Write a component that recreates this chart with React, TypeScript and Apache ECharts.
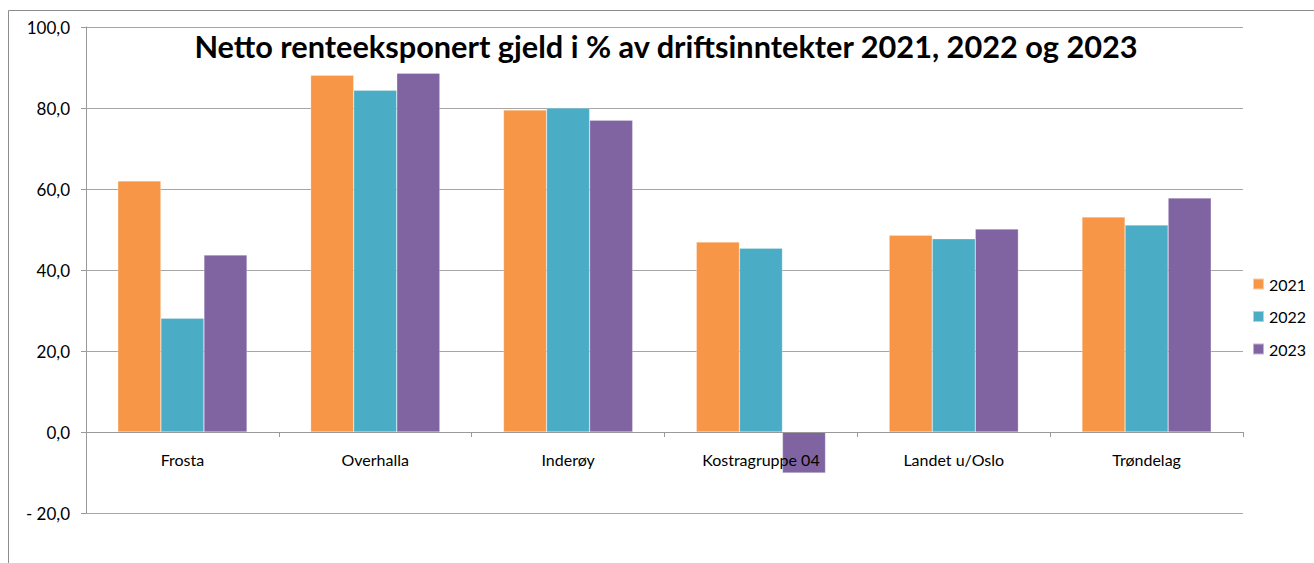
import React, { useEffect, useRef } from "react";
import * as echarts from "echarts";

const categories = ["Frosta", "Overhalla", "Inderøy", "Kostragruppe 04", "Landet u/Oslo", "Trøndelag"];
const values2021 = [62.0, 88.1, 79.5, 46.9, 48.6, 53.1];
const values2022 = [28.1, 84.4, 80.0, 45.4, 47.7, 51.1];
const values2023 = [43.7, 88.6, 77.0, -10.1, 50.1, 57.8];
const seriesNames = ["2021", "2022", "2023"];
const colors = ["#F79646", "#4BACC6", "#8064A2"];
const titleText = "Netto renteeksponert gjeld i % av driftsinntekter 2021, 2022 og 2023";

const FONT = "Lato, 'Open Sans', sans-serif";

export default function App() {
  const ref = useRef<HTMLDivElement>(null);
  useEffect(() => {
    if (!ref.current) return;
    const chart = echarts.init(ref.current, null, { renderer: "svg" });
    const data = [values2021, values2022, values2023];
    chart.setOption({
      animation: false,
      backgroundColor: "#ffffff",
      textStyle: { fontFamily: FONT },
      title: {
        text: titleText,
        left: 661,
        top: 26,
        textAlign: "center",
        textStyle: { fontFamily: FONT, fontWeight: "bold", fontSize: 30.7, color: "#000" },
      },
      graphic: [
        {
          type: "rect",
          shape: { x: 8.5, y: 10.5, width: 1400, height: 600 },
          style: { fill: "none", stroke: "#8c8c8c", lineWidth: 1 },
          silent: true,
        },
      ],
      legend: {
        orient: "vertical",
        left: 1247,
        top: 271,
        itemWidth: 11,
        itemHeight: 11,
        itemGap: 16.5,
        icon: "rect",
        textStyle: { fontFamily: FONT, fontSize: 16, color: "#000" },
        data: seriesNames,
      },
      grid: { left: 86, right: 71, top: 27, bottom: 50, containLabel: false },
      xAxis: {
        type: "category",
        data: categories,
        position: "bottom",
        offset: -81,
        axisLine: { onZero: false, lineStyle: { color: "#9a9a9a", width: 1 } },
        axisTick: { show: true, length: 5, lineStyle: { color: "#9a9a9a" } },
        axisLabel: { fontFamily: FONT, fontSize: 16, color: "#000", margin: 19 },
        z: 5,
      },
      yAxis: {
        type: "value",
        min: -20,
        max: 100,
        interval: 20,
        axisLine: { show: true, lineStyle: { color: "#9a9a9a", width: 1 } },
        axisTick: { show: true, length: 5, lineStyle: { color: "#9a9a9a" } },
        splitLine: { show: true, lineStyle: { color: "#a6a6a6", width: 1 } },
        axisLabel: {
          fontFamily: FONT,
          fontSize: 17,
          color: "#000",
          margin: 16,
          formatter: (v: number) => {
            const s = Math.abs(v).toFixed(1).replace(".", ",");
            return v < 0 ? "- " + s : s;
          },
        },
      },
      series: seriesNames.map((name, i) => ({
        name,
        type: "bar",
        data: data[i],
        barGap: "0%",
        barCategoryGap: "33%",
        itemStyle: { color: colors[i], borderColor: "rgba(255,255,255,0.5)", borderWidth: 0.5 },
        z: 3,
      })),
    });
    return () => chart.dispose();
  }, []);
  return (
    <div
      ref={ref}
      style={{ position: "fixed", left: 0, top: 0, width: 1314, height: 563, background: "#fff" }}
    />
  );
}
